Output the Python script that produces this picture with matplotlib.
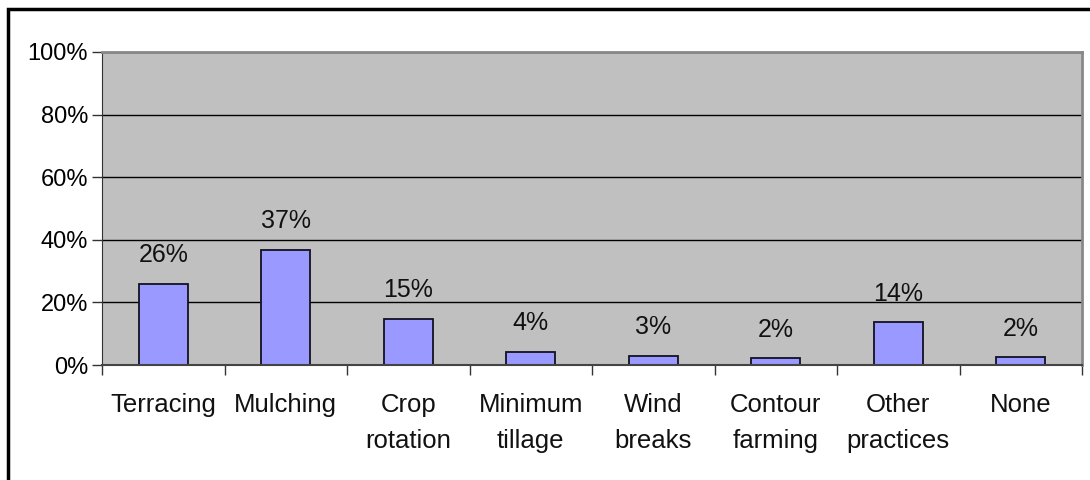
import matplotlib
matplotlib.use("Agg")
import matplotlib.pyplot as plt
from matplotlib.patches import Rectangle
import numpy as np

categories = ["Terracing", "Mulching", "Crop\nrotation", "Minimum\ntillage",
              "Wind\nbreaks", "Contour\nfarming", "Other\npractices", "None"]
values = [26.0, 36.7, 14.7, 4.2, 2.9, 2.1, 13.6, 2.4]
yticks = [0, 20, 40, 60, 80, 100]
ytick_labels = ["0%", "20%", "40%", "60%", "80%", "100%"]

plt.rcParams['font.family'] = ['Liberation Sans', 'DejaVu Sans']

fig = plt.figure(figsize=(10.9, 4.8), dpi=100)
W, H = 1090, 480
ax = fig.add_axes([102 / W, (H - 365) / H, (1082 - 102) / W, (365 - 52) / H])

# outer border (only top/left visible in reference crop)
fig.patches.append(Rectangle((8 / W, -0.05), 1.2, (H - 9) / H + 0.05,
                             transform=fig.transFigure, fill=False,
                             edgecolor='black', linewidth=2.5, zorder=10))

ax.set_facecolor('#C0C0C0')
x = np.arange(len(categories))
ax.bar(x, values, width=0.4, color='#9999FF', edgecolor='#111122',
       linewidth=1.3, zorder=3)

for xi, v in zip(x, values):
    ax.annotate(f"{v:.0f}%", (xi, v), xytext=(0, 12), textcoords='offset points',
                ha='center', va='bottom', fontsize=18, color='#111111')

ax.set_xlim(-0.5, len(categories) - 0.5)
ax.set_ylim(0, 100)
ax.set_yticks(yticks)
ax.set_yticklabels(ytick_labels, fontsize=17)
ax.yaxis.grid(True, color='black', linewidth=1.0, zorder=1)
ax.set_axisbelow(True)

ax.set_xticks(x)
ax.set_xticklabels(categories, fontsize=18.5, linespacing=1.65, va='top',
                   color='#111111')
ax.set_xticks(np.arange(len(categories) + 1) - 0.5, minor=True)
ax.tick_params(axis='x', which='major', length=0, pad=20)
ax.tick_params(axis='x', which='minor', length=7, width=1, color='#333333')
ax.tick_params(axis='y', length=7, width=1, color='#333333', pad=3)

for s in ['top', 'right']:
    ax.spines[s].set_color('#888888')
    ax.spines[s].set_linewidth(2)
ax.spines['left'].set_color('#333333')
ax.spines['bottom'].set_color('#444444')
ax.spines['bottom'].set_linewidth(1.5)
ax.spines['bottom'].set_zorder(4)

fig.savefig('out.png', dpi=100)
